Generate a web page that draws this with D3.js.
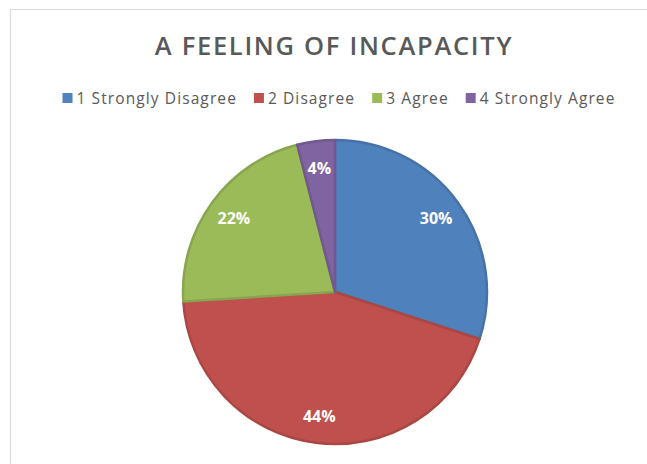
<!DOCTYPE html>
<html>
<head>
<meta charset="utf-8">
<script src="https://cdn.jsdelivr.net/npm/d3@7"></script>
<style>
  body { margin: 0; background: #fff; }
  text { font-family: "Open Sans", "Liberation Sans", sans-serif; }
</style>
</head>
<body>
<div id="viz"></div>
<script>
// chart data
const categories = ["1 Strongly Disagree", "2 Disagree", "3 Agree", "4 Strongly Agree"];
const values = [30, 44, 22, 4];
const colors = ["#4F81BD", "#C0504D", "#9BBB59", "#8064A2"];
const titleText = "A FEELING OF INCAPACITY";

const width = 647, height = 464;
const cx = 335, cy = 292, radius = 152;

const svg = d3.select("#viz").append("svg")
    .attr("width", width)
    .attr("height", height);

// chart area frame (left + top edges visible)
svg.append("path")
    .attr("d", `M10.5,${height} V9.5 H${width}`)
    .attr("fill", "none")
    .attr("stroke", "#d9d9d9")
    .attr("stroke-width", 1.2);

// title
svg.append("text")
    .attr("x", 334)
    .attr("y", 55)
    .attr("text-anchor", "middle")
    .attr("font-size", 25.5)
    .attr("font-weight", 600)
    .attr("letter-spacing", 1.7)
    .attr("fill", "#595959")
    .text(titleText);

// legend, laid out from measured text widths
const legend = svg.append("g");
const items = legend.selectAll("g")
    .data(categories)
    .enter().append("g");
items.append("rect")
    .attr("width", 10).attr("height", 10)
    .attr("y", 93)
    .attr("fill", (d, i) => colors[i]);
items.append("text")
    .attr("x", 14)
    .attr("y", 104)
    .attr("font-size", 15.5)
    .attr("letter-spacing", 1.1)
    .attr("fill", "#595959")
    .text(d => d);
let xPos = 0;
items.each(function() {
    const w = d3.select(this).select("text").node().getComputedTextLength();
    d3.select(this).attr("transform", `translate(${xPos},0)`);
    xPos += 14 + w + 17;
});
const legendWidth = xPos - 17;
legend.attr("transform", `translate(${339 - legendWidth / 2},0)`);

// pie
const pie = d3.pie().sort(null).value(d => d)(values);
const arc = d3.arc().innerRadius(0).outerRadius(radius);
const labelArc = d3.arc().innerRadius(125).outerRadius(125);

const g = svg.append("g").attr("transform", `translate(${cx},${cy})`);

g.selectAll("path.slice")
    .data(pie)
    .enter().append("path")
    .attr("class", "slice")
    .attr("d", arc)
    .attr("fill", (d, i) => colors[i])
    .attr("stroke", (d, i) => d3.color(colors[i]).darker(0.35))
    .attr("stroke-width", 2.5)
    .attr("stroke-linejoin", "round");

g.selectAll("text.lbl")
    .data(pie)
    .enter().append("text")
    .attr("class", "lbl")
    .attr("transform", d => `translate(${labelArc.centroid(d)})`)
    .attr("text-anchor", "middle")
    .attr("dy", "0.36em")
    .attr("font-size", 16)
    .attr("font-weight", 700)
    .attr("fill", "#fff")
    .text(d => d.data + "%");
</script>
</body>
</html>
